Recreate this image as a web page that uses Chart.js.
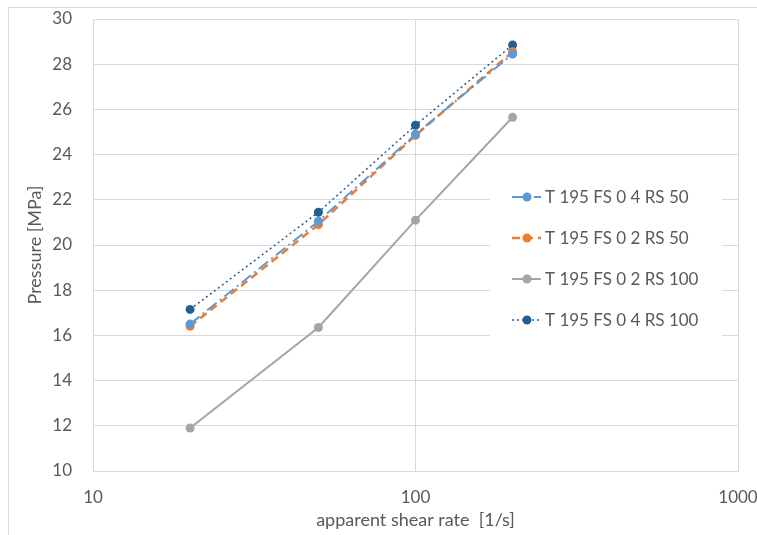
<!DOCTYPE html>
<html>
<head>
<meta charset="utf-8">
<script src="https://cdn.jsdelivr.net/npm/chart.js@4.4.0/dist/chart.umd.min.js"></script>
<style>
  html, body { margin: 0; padding: 0; background: #fff; }
  #wrap { position: relative; width: 757px; height: 535px; }
</style>
</head>
<body>
<div id="wrap"><canvas id="pressureChart" width="757" height="535"></canvas></div>
<script>
// shear rates (x) and pressures (y)
const shearRates = [20, 50, 100, 200];
const seriesNames = ['T 195 FS 0 4 RS 50', 'T 195 FS 0 2 RS 50', 'T 195 FS 0 2 RS 100', 'T 195 FS 0 4 RS 100'];
const fs04rs50 = [16.5, 21.05, 24.9, 28.45];
const fs02rs50 = [16.4, 20.9, 24.85, 28.55];
const fs02rs100 = [11.9, 16.35, 21.1, 25.65];
const fs04rs100 = [17.15, 21.45, 25.3, 28.85];
const xTicks = [10, 100, 1000];
const yMin = 10, yMax = 30, yStep = 2;

const FONT = 'Lato, "Open Sans", sans-serif';
const TEXT = '#595959';
const GRID = '#d9d9d9';

function toPoints(vals) {
    return shearRates.map((x, i) => ({ x: x, y: vals[i] }));
}

function makeSet(i, vals, color, dash, width) {
    return {
        label: seriesNames[i],
        data: toPoints(vals),
        borderColor: color,
        backgroundColor: color,
        borderWidth: width,
        borderDash: dash,
        pointRadius: 4.5,
        pointBorderWidth: 0,
        pointBackgroundColor: color,
        tension: 0
    };
}

// outer frame of the chart object
const framePlugin = {
    id: 'frame',
    beforeDraw(chart) {
        const ctx = chart.ctx;
        ctx.save();
        ctx.fillStyle = '#fff';
        ctx.fillRect(0, 0, chart.width, chart.height);
        ctx.strokeStyle = GRID;
        ctx.lineWidth = 1;
        ctx.strokeRect(8.5, 7.5, 800, 600);
        ctx.restore();
    }
};

// legend drawn inside the plot, like the Excel original
const insideLegend = {
    id: 'insideLegend',
    afterDatasetsDraw(chart) {
        const ctx = chart.ctx;
        const rows = [197, 238, 279, 320];
        ctx.save();
        ctx.fillStyle = '#fff';
        ctx.fillRect(490, 176, 232, 164);
        chart.data.datasets.forEach((ds, i) => {
            const y = rows[i];
            ctx.strokeStyle = ds.borderColor;
            ctx.lineWidth = ds.borderWidth;
            ctx.setLineDash(ds.borderDash || []);
            ctx.beginPath();
            ctx.moveTo(512, y);
            ctx.lineTo(541, y);
            ctx.stroke();
            ctx.setLineDash([]);
            ctx.fillStyle = ds.borderColor;
            ctx.beginPath();
            ctx.arc(527, y, 4.5, 0, Math.PI * 2);
            ctx.fill();
            ctx.fillStyle = TEXT;
            ctx.font = '17px ' + FONT;
            ctx.textBaseline = 'middle';
            ctx.textAlign = 'left';
            ctx.fillText(ds.label, 545, y + 1);
        });
        ctx.restore();
    }
};

new Chart(document.getElementById('pressureChart'), {
    type: 'line',
    data: {
        datasets: [
            makeSet(0, fs04rs50, '#5B9BD5', [12, 4, 2, 4], 2),
            makeSet(1, fs02rs50, '#ED7D31', [8, 5], 2.5),
            makeSet(2, fs02rs100, '#A5A5A5', [], 2),
            makeSet(3, fs04rs100, '#255E91', [2, 3], 1.5)
        ]
    },
    options: {
        responsive: false,
        animation: false,
        layout: { padding: { left: 20, right: 19, top: 19, bottom: 0 } },
        plugins: {
            legend: { display: false },
            tooltip: { enabled: false }
        },
        scales: {
            x: {
                type: 'logarithmic',
                min: 10,
                max: 1000,
                afterBuildTicks(scale) {
                    scale.ticks = xTicks.map(v => ({ value: v }));
                },
                afterFit(scale) {
                    scale.height = 64;
                    scale.paddingLeft = 0;
                    scale.paddingRight = 0;
                },
                ticks: {
                    color: TEXT,
                    font: { family: FONT, size: 17 },
                    padding: 16,
                    maxRotation: 0,
                    callback: v => String(v)
                },
                grid: { color: GRID, drawTicks: false },
                border: { color: GRID },
                title: {
                    display: true,
                    text: 'apparent shear rate  [1/s]',
                    color: TEXT,
                    font: { family: FONT, size: 18 }
                }
            },
            y: {
                min: yMin,
                max: yMax,
                afterFit(scale) {
                    scale.width = 73;
                    scale.paddingTop = 0;
                    scale.paddingBottom = 0;
                },
                ticks: {
                    stepSize: yStep,
                    color: TEXT,
                    font: { family: FONT, size: 17 },
                    padding: 21
                },
                grid: { color: GRID, drawTicks: false },
                border: { color: GRID },
                title: {
                    display: true,
                    text: 'Pressure [MPa]',
                    color: TEXT,
                    font: { family: FONT, size: 18 }
                }
            }
        }
    },
    plugins: [framePlugin, insideLegend]
});
</script>
</body>
</html>
